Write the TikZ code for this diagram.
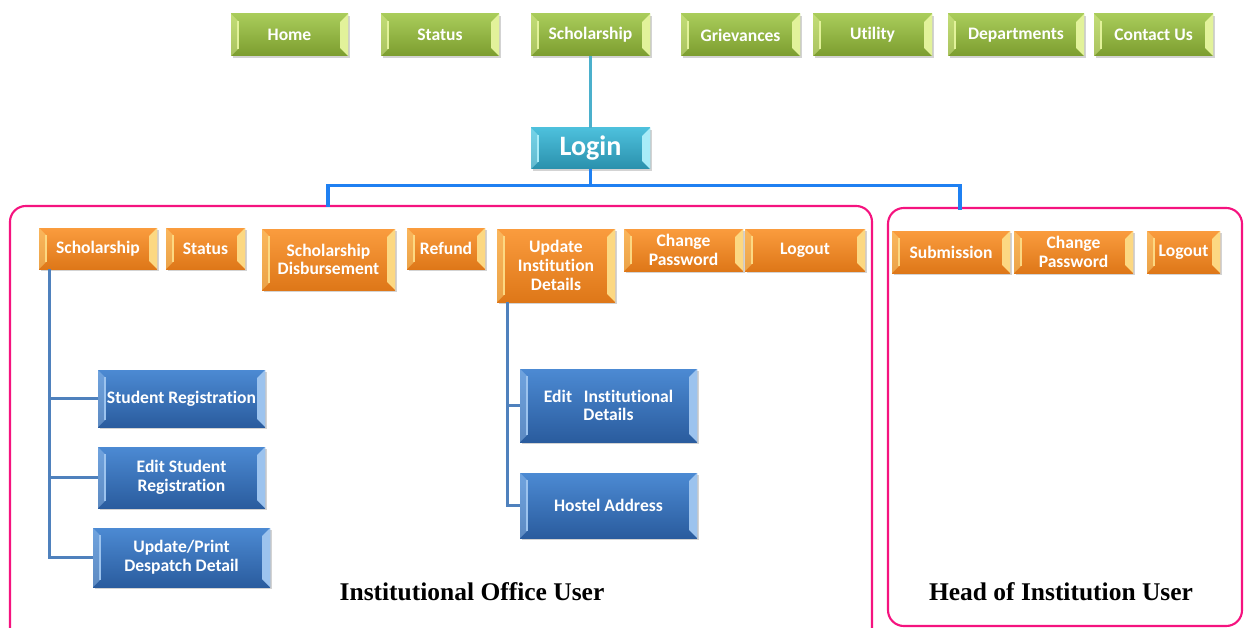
\documentclass[tikz,border=0pt]{standalone}
\usepackage{fontspec}
\setsansfont[Ligatures=NoCommon]{Carlito}
\newfontfamily\labelfont{Liberation Serif}
\usepackage{tikz}
\usetikzlibrary{shadows}

\definecolor{greentop}{HTML}{A9CC5A}
\definecolor{greenbot}{HTML}{7C9D2F}
\definecolor{greenlit}{HTML}{E2F29A}
\definecolor{tealtop}{HTML}{4DC0DC}
\definecolor{tealbot}{HTML}{2A90AC}
\definecolor{teallit}{HTML}{A8ECF8}
\definecolor{orangetop}{HTML}{FA9C3E}
\definecolor{orangebot}{HTML}{DE7718}
\definecolor{orangelit}{HTML}{FCD882}
\definecolor{bluetop}{HTML}{4C8AD3}
\definecolor{bluebot}{HTML}{2A5C9E}
\definecolor{bluelit}{HTML}{9CC3EE}
\definecolor{linkteal}{HTML}{4BB0CC}
\definecolor{linkbus}{HTML}{1F80F2}
\definecolor{linktree}{HTML}{4F81BD}
\definecolor{framepink}{HTML}{F5137F}

\begin{document}
\begin{tikzpicture}[x=0.02cm,y=-0.02cm]
   \useasboundingbox (0,0) rectangle (1246,628);
   \clip (0,0) rectangle (1246,628);
   \tikzstyle{bevel}=[path picture={
      \fill[#1,opacity=0.45] (path picture bounding box.north west) -- ([shift={(4pt,-4pt)}]path picture bounding box.north west)
         -- ([shift={(4pt,4pt)}]path picture bounding box.south west) -- (path picture bounding box.south west) -- cycle;
      \draw[#1,line width=0.8pt] ([shift={(4pt,-4pt)}]path picture bounding box.north west) -- ([shift={(4pt,4pt)}]path picture bounding box.south west);
      \fill[#1] (path picture bounding box.north east) -- ([shift={(-4.5pt,-4.5pt)}]path picture bounding box.north east)
         -- ([shift={(-4.5pt,4.5pt)}]path picture bounding box.south east) -- (path picture bounding box.south east) -- cycle;
   }]
   \tikzstyle{tab}=[inner sep=1pt, align=center, text=white, font=\sffamily\bfseries\fontsize{10}{10.6}\selectfont,
      drop shadow={shadow xshift=1.2pt, shadow yshift=-1.2pt, opacity=0.35}]
   \tikzstyle{menu}=[tab, top color=greentop, bottom color=greenbot, bevel=greenlit, minimum height=42*0.02cm]
   \tikzstyle{gate}=[tab, top color=tealtop, bottom color=tealbot, bevel=teallit, font=\sffamily\bfseries\fontsize{16}{17}\selectfont]
   \tikzstyle{option}=[tab, top color=orangetop, bottom color=orangebot, bevel=orangelit]
   \tikzstyle{task}=[tab, top color=bluetop, bottom color=bluebot, bevel=bluelit]
   \tikzstyle{frame}=[draw=framepink, line width=1.2pt, rounded corners=9pt, inner sep=0pt]
   \tikzstyle{userlabel}=[font=\labelfont\bfseries\fontsize{14.5}{16}\selectfont]
   \foreach \name/\x/\w/\word in {home/289.5/117/Home, status/440/118/Status, schol/590.5/119/Scholarship,
         griev/740.5/119/Grievances, util/872.5/119/Utility, dept/1016/136/Departments, contact/1153.5/119/Contact Us} {
       \node[menu, minimum width=\w*0.02cm] (\name) at (\x,35) {\word};
   }
   \node[gate, minimum width=119*0.02cm, minimum height=41*0.02cm] (login) at (590.5,148.5) {Login};
   \draw[linkteal, line width=1.7pt] (schol) -- (login);
   \node[frame, minimum width=862*0.02cm, minimum height=440*0.02cm] (office) at (441,426) {};
   \node[frame, minimum width=354*0.02cm, minimum height=418*0.02cm] (head) at (1065,417) {};
   \coordinate (lefttap) at (328,207);
   \coordinate (righttap) at (960,210);
   \draw[linkbus, line width=1.8pt] (login.south) -- ++(0,16) -| (lefttap);
   \draw[linkbus, line width=1.8pt] (login.south) -- ++(0,16) -| (righttap);
   \node[option, minimum width=118*0.02cm, minimum height=41*0.02cm] (lschol) at (98,248.5) {Scholarship};
   \node[option, minimum width=79*0.02cm, minimum height=41*0.02cm] (lstatus) at (205.5,248.5) {Status};
   \node[option, minimum width=133*0.02cm, minimum height=61*0.02cm] (ldisb) at (328.5,259.5) {Scholarship\\Disbursement};
   \node[option, minimum width=78*0.02cm, minimum height=41*0.02cm] (lrefund) at (446,248.5) {Refund};
   \node[option, minimum width=118*0.02cm, minimum height=73*0.02cm] (lupdate) at (556,265.5) {Update\\Institution\\Details};
   \node[option, minimum width=119*0.02cm, minimum height=42*0.02cm] (lpass) at (683.5,250) {Change\\Password};
   \node[option, minimum width=120*0.02cm, minimum height=42*0.02cm] (llogout) at (805,250) {Logout};
   \node[option, minimum width=118*0.02cm, minimum height=42*0.02cm] (rsubmit) at (951,252) {Submission};
   \node[option, minimum width=119*0.02cm, minimum height=42*0.02cm] (rpass) at (1073.5,252) {Change\\Password};
   \node[option, minimum width=73*0.02cm, minimum height=42*0.02cm] (rlogout) at (1183.5,252) {Logout};
   \node[task, minimum width=167*0.02cm, minimum height=57*0.02cm] (sreg) at (181.5,398.5) {Student Registration};
   \node[task, minimum width=167*0.02cm, minimum height=61*0.02cm] (ereg) at (181.5,477.5) {Edit Student\\Registration};
   \node[task, minimum width=177*0.02cm, minimum height=59*0.02cm] (desp) at (181.5,557.5) {Update/Print\\Despatch Detail};
   \node[task, minimum width=177*0.02cm, minimum height=73*0.02cm] (einst) at (608.5,405.5) {Edit\ \ \ Institutional\\Details};
   \node[task, minimum width=177*0.02cm, minimum height=65*0.02cm] (hostel) at (608.5,505.5) {Hostel Address};
   \foreach \leaf in {sreg,ereg,desp} {
       \draw[linktree, line width=1.7pt] ([xshift=0.22cm]lschol.south west) |- (\leaf.west);
   }
   \foreach \leaf in {einst,hostel} {
       \draw[linktree, line width=1.7pt] ([xshift=0.22cm]lupdate.south west) |- (\leaf.west);
   }
   \node[userlabel] (officelabel) at (472,592) {Institutional Office User};
   \node[userlabel] (headlabel) at (1061,592) {Head of Institution User};
\end{tikzpicture}
\end{document}
